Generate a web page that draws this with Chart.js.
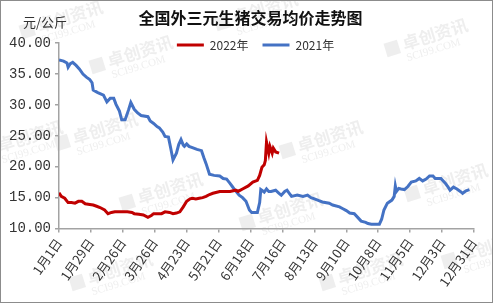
<!DOCTYPE html>
<html>
<head>
<meta charset="utf-8">
<script src="https://cdn.jsdelivr.net/npm/chart.js@4.4.1/dist/chart.umd.min.js"></script>
<style>
  html, body { margin: 0; padding: 0; background: #fff; }
  #wrap { width: 491px; height: 301px; border: 1px solid #8c8c8c; position: relative; }
</style>
</head>
<body>
<div id="wrap"><canvas id="chart"></canvas></div>
<script>
// x positions are day-of-year (0 = 1月1日)
const tickDays = [0, 28, 56, 84, 112, 140, 168, 196, 224, 252, 280, 308, 336, 364];
const tickLabels = ['1月1日', '1月29日', '2月26日', '3月26日', '4月23日', '5月21日', '6月18日',
  '7月16日', '8月13日', '9月10日', '10月8日', '11月5日', '12月3日', '12月31日'];

const days2021 = [0, 4, 7, 8, 10, 12, 15, 18, 21, 24, 27, 29, 30, 34, 39, 42, 45, 48, 50, 53,
  55, 58, 61, 63, 66, 69, 72, 78, 80, 83, 86, 88, 91, 93, 96, 98, 100, 103, 105, 107,
  109, 110, 112, 114, 117, 121, 125, 127, 129, 132, 136, 141, 144, 147, 150, 152, 154, 158, 161, 164,
  167, 169, 174, 176, 177, 180, 182, 184, 186, 190, 193, 195, 198, 200, 202, 204, 209, 214, 218, 221,
  224, 228, 231, 237, 240, 246, 249, 252, 255, 259, 263, 265, 269, 271, 274, 281, 283, 285, 288, 292,
  294, 295, 296, 298, 300, 303, 306, 309, 313, 316, 319, 322, 325, 328, 330, 335, 339, 341, 343, 346,
  349, 352, 354, 357, 360];
const prices2021 = [37.3, 37.1, 36.8, 36.1, 36.7, 36.9, 36.4, 35.8, 35.0, 34.5, 34.1, 33.6, 32.4, 32.0, 31.6, 30.5, 31.1, 31.1, 30.1, 29.0,
  27.6, 27.6, 29.2, 30.4, 29.3, 28.7, 28.3, 28.1, 27.4, 27.0, 26.5, 26.3, 25.6, 24.9, 24.8, 23.0, 21.1, 22.2, 23.6, 24.4,
  23.5, 23.3, 23.7, 23.3, 23.1, 22.8, 22.6, 21.5, 20.5, 18.8, 18.6, 18.5, 18.1, 18.0, 17.3, 16.8, 16.3, 15.4, 15.0, 14.4,
  13.0, 12.6, 12.6, 14.2, 16.3, 15.9, 16.4, 16.0, 16.0, 16.2, 15.7, 15.4, 16.0, 16.2, 15.7, 15.2, 15.4, 15.2, 15.4, 15.0,
  14.8, 14.5, 14.3, 14.1, 13.8, 13.5, 13.2, 12.9, 12.5, 12.4, 11.6, 11.2, 11.0, 10.8, 10.7, 10.7, 11.5, 13.0, 14.1, 14.6,
  15.2, 16.9, 16.0, 16.5, 16.4, 16.3, 16.8, 17.5, 17.7, 18.1, 17.7, 18.0, 18.5, 18.5, 18.1, 18.1, 17.3, 16.8, 16.2, 16.7,
  16.4, 16.0, 15.7, 16.1, 16.3];

const days2022 = [0, 2, 5, 8, 11, 14, 17, 20, 23, 27, 30, 33, 36, 40, 43, 46, 49, 55, 60, 64,
  66, 70, 74, 78, 81, 83, 86, 90, 93, 97, 100, 103, 106, 109, 112, 115, 117, 120, 123, 126,
  129, 132, 135, 141, 150, 155, 157, 161, 166, 170, 174, 176, 178, 180, 181, 182, 184, 185, 187, 188,
  190, 193];
const prices2022 = [15.8, 15.2, 14.9, 14.2, 14.2, 14.1, 14.4, 14.4, 14.0, 13.9, 13.8, 13.6, 13.4, 13.0, 12.4, 12.6, 12.7, 12.7, 12.7, 12.6,
  12.4, 12.3, 12.2, 11.8, 12.1, 12.4, 12.4, 12.4, 12.7, 12.6, 12.4, 12.5, 12.7, 13.5, 14.4, 14.8, 14.9, 14.8, 14.9, 15.0,
  15.2, 15.5, 15.7, 16.0, 16.0, 16.2, 16.0, 16.4, 16.9, 17.5, 17.8, 18.6, 19.9, 20.3, 21.0, 24.0, 22.2, 23.3, 22.2, 23.0,
  22.4, 22.2];

const toPoints = (xs, ys) => xs.map((x, i) => ({ x: x, y: ys[i] }));

const axisColor = '#a3a3a3';

// faint site watermarks
const watermark = {
  id: 'watermark',
  beforeDraw(chart) {
    const ctx = chart.ctx;
    const spots = [[60, 20], [130, 55], [255, 12], [425, 38], [20, 140], [95, 132], [160, 192],
      [320, 140], [110, 272], [280, 212], [360, 272], [445, 183], [482, 250]];
    ctx.save();
    spots.forEach(([x, y]) => {
      ctx.save();
      ctx.translate(x, y);
      ctx.rotate(-0.3);
      ctx.fillStyle = 'rgba(200,200,200,0.3)';
      ctx.fillRect(-42, -8, 14, 14);
      ctx.font = 'bold 17px "Noto Sans CJK SC"';
      ctx.textBaseline = 'middle';
      ctx.fillText('卓创资讯', -24, -2);
      ctx.font = '11px "Liberation Serif"';
      ctx.fillText('SCI99.COM', -24, 13);
      ctx.restore();
    });
    ctx.restore();
  }
};

// unit label, plus nudging title and legend to where the original has them
const extras = {
  id: 'extras',
  afterLayout(chart) {
    const t = chart.titleBlock;
    t.left += 13;
    t.right += 13;
    const lg = chart.legend;
    lg.left += 18;
    lg.right += 18;
    lg.top = 24;
    lg.bottom = 60;
    lg.height = 36;
  },
  afterDraw(chart) {
    const ctx = chart.ctx;
    ctx.save();
    ctx.fillStyle = '#333';
    ctx.font = '13px "Noto Sans CJK SC"';
    ctx.textBaseline = 'middle';
    ctx.fillText('元/公斤', 22, 21);
    ctx.restore();
  }
};

new Chart(document.getElementById('chart'), {
  type: 'line',
  data: {
    datasets: [{
      label: '2022年',
      data: toPoints(days2022, prices2022),
      borderColor: '#c00000',
      backgroundColor: '#c00000',
      borderWidth: 3,
      pointRadius: 0,
      tension: 0,
    }, {
      label: '2021年',
      data: toPoints(days2021, prices2021),
      borderColor: '#4472c4',
      backgroundColor: '#4472c4',
      borderWidth: 3,
      pointRadius: 0,
      tension: 0,
    }],
  },
  options: {
    responsive: true,
    maintainAspectRatio: false,
    animation: false,
    layout: { padding: { left: 0, right: 18, top: 0, bottom: 0 } },
    plugins: {
      title: {
        display: true,
        text: '全国外三元生猪交易均价走势图',
        color: '#111',
        font: { family: '"Noto Sans CJK SC"', size: 16, weight: 'bold' },
        padding: { top: 7, bottom: 15 },
      },
      legend: {
        position: 'top',
        maxHeight: 1,
        labels: {
          usePointStyle: true,
          pointStyle: 'line',
          pointStyleWidth: 27,
          padding: 14,
          color: '#333',
          font: { family: '"Noto Sans CJK SC"', size: 12 },
        },
      },
      tooltip: { enabled: false },
    },
    scales: {
      x: {
        type: 'linear',
        min: 0,
        max: 364,
        afterBuildTicks: (axis) => { axis.ticks = tickDays.map((d) => ({ value: d })); },
        afterFit: (axis) => { axis.height = 73.5; },
        ticks: {
          autoSkip: false,
          minRotation: 55,
          maxRotation: 55,
          padding: 3,
          color: '#333',
          font: { family: '"Noto Sans CJK SC"', size: 13 },
          callback: (value, index) => tickLabels[index],
        },
        grid: { drawOnChartArea: false, drawTicks: true, tickLength: 4, color: axisColor, lineWidth: 1.5 },
        border: { display: true, color: axisColor, width: 1.5 },
      },
      y: {
        min: 10,
        max: 40,
        afterFit: (axis) => { axis.width = 58; },
        ticks: {
          stepSize: 5,
          padding: 4,
          color: '#333',
          font: { family: '"Liberation Mono"', size: 14 },
          callback: (v) => v.toFixed(2),
        },
        grid: { drawOnChartArea: false, drawTicks: true, tickLength: 4, color: axisColor, lineWidth: 1.5 },
        border: { display: true, color: axisColor, width: 1.5 },
      },
    },
  },
  plugins: [watermark, extras],
});
</script>
</body>
</html>
